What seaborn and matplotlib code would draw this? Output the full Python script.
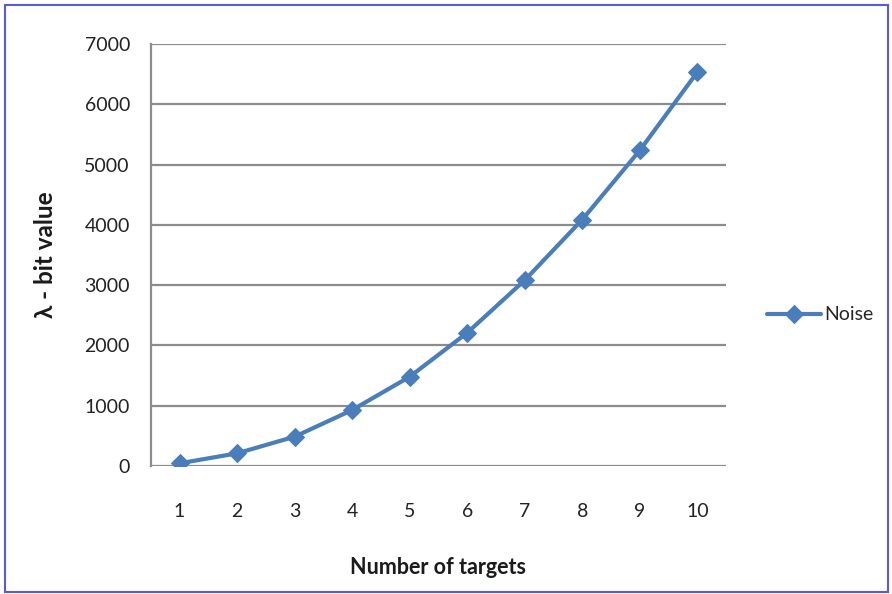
import matplotlib.pyplot as plt
import seaborn as sns
import pandas as pd
from matplotlib.patches import Rectangle

targets = [1, 2, 3, 4, 5, 6, 7, 8, 9, 10]
noise = [44, 210, 486, 928, 1480, 2209, 3081, 4086, 5235, 6532]

df = pd.DataFrame({"Number of targets": targets, "Noise": noise})

sns.set_style("white")
plt.rcParams["font.family"] = ["Lato", "DejaVu Sans"]

fig = plt.figure(figsize=(8.92, 5.94), dpi=100)
ax = fig.add_axes([0.169, 0.2155, 0.645, 0.7105])

sns.lineplot(
    data=df, x="Number of targets", y="Noise", ax=ax,
    color="#4a7ebb", linewidth=3, marker="D", markersize=9,
    markeredgecolor="#4a7ebb", label="Noise"
)

ax.set_xlim(0.5, 10.5)
ax.set_ylim(0, 7000)
ax.set_xticks(targets)
ax.set_yticks(range(0, 7001, 1000))
ax.yaxis.grid(True, color="#8c8c8c", linewidth=1.6)
ax.set_axisbelow(True)
for s in ["top", "right", "bottom"]:
    ax.spines[s].set_visible(False)
ax.spines["left"].set_color("#8c8c8c")
ax.spines["left"].set_linewidth(1.6)
ax.tick_params(axis="y", length=6, width=1.4, color="#8c8c8c", labelsize=14,
               pad=9, labelcolor="#222222")
ax.tick_params(axis="x", length=0, labelsize=14, pad=27, labelcolor="#222222")

ax.set_xlabel("Number of targets", fontsize=15.5, fontweight="bold", labelpad=26,
              color="#1a1a1a")
ax.set_ylabel("λ - bit value", fontsize=17.5, fontweight="bold", labelpad=20,
              color="#1a1a1a")

ax.legend(loc="center left", bbox_to_anchor=(1.04, 0.358), frameon=False,
          fontsize=14, handlelength=2.8, handletextpad=0.15)

fig.patches.append(Rectangle((0.006, 0.004), 0.99, 0.988, transform=fig.transFigure,
                             fill=False, edgecolor="#5a5ad8", linewidth=1.5))

plt.savefig("out.png", dpi=100)
